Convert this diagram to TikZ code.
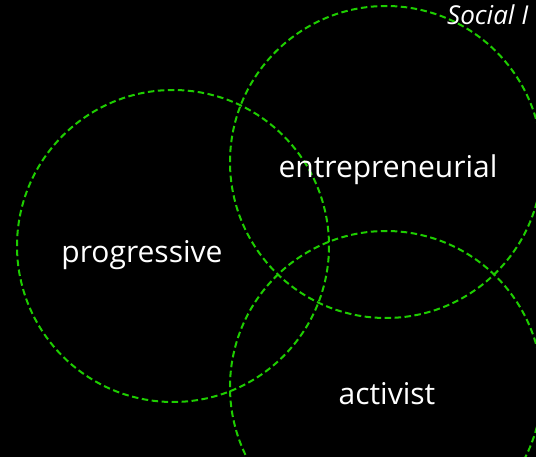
\documentclass[tikz,border=0pt]{standalone}
\usepackage{fontspec}
\setsansfont{Open Sans}
\definecolor{ringgreen}{RGB}{30,205,0}

\begin{document}
\begin{tikzpicture}[
  font=\sffamily,
  % one unit is one pixel of the reference, y runs downward
  x=1pt,
  y=-1pt,
  ring/.style={draw=ringgreen, line width=2pt, dash pattern=on 6.5pt off 3.5pt},
  word/.style={text=white, inner sep=0pt, font=\sffamily\fontsize{30}{36}\selectfont}
]

% black page, 536 x 457
\fill[black] (0,0) rectangle (536,457);
\useasboundingbox (0,0) rectangle (536,457);
\clip (0,0) rectangle (536,457);

% 1) the three dashed rings
\draw[ring] (173,246) circle (156);  % progressive
\draw[ring] (386,162) circle (156);  % entrepreneurial
\draw[ring] (386,387) circle (156);  % activist

% 2) labels
\node[word] (progressive) at (142,255) {progressive};
\node[word] (entrepreneurial) at (388,170) {entrepreneurial};
\node[word] (activist) at (387,394) {activist};

% title, cut by the right edge
\node[word, anchor=base west, font=\sffamily\itshape\fontsize{26}{31}\selectfont] (title) at (447,25) {Social I};

\end{tikzpicture}
\end{document}
